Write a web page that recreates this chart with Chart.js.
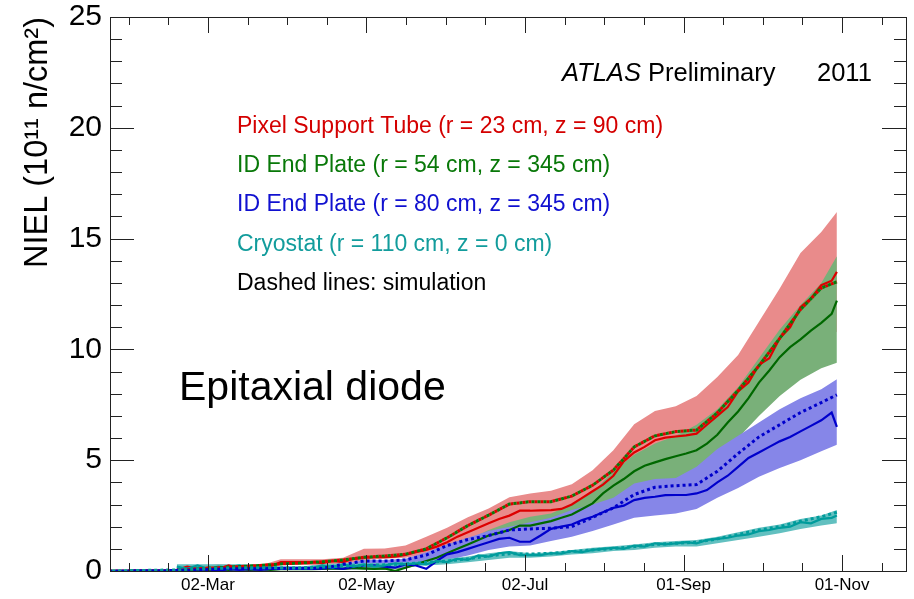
<!DOCTYPE html>
<html>
<head>
<meta charset="utf-8">
<title>NIEL vs time, 2011</title>
<script src="https://cdn.jsdelivr.net/npm/chart.js@4.4.1/dist/chart.umd.min.js"></script>
<style>
  html, body { margin: 0; padding: 0; background: #fff; }
</style>
</head>
<body>
<canvas id="niel" width="914" height="599"></canvas>
<script>
// x values are day of year 2011 (0 = 1 Jan)
const tickDays = [60, 121, 182, 243, 304];
const tickLabels = ['02-Mar', '02-May', '02-Jul', '01-Sep', '01-Nov'];

// measured fluence, sampled every 4 days
const measDays = [
  48, 52, 56, 60, 64, 68, 72, 76, 80, 84, 88, 92, 96, 100, 104, 108,
  112, 116, 120, 124, 128, 132, 136, 140, 144, 148, 152, 156, 160, 164, 168, 172,
  176, 180, 184, 188, 192, 196, 200, 204, 208, 212, 216, 220, 224, 228, 232, 236,
  240, 244, 248, 252, 256, 260, 264, 268, 272, 276, 280, 284, 288, 292, 296, 300, 302
];
const measPixel = [
  0.05, 0.2, 0.1, 0.15, 0.1, 0.25, 0.1, 0.15, 0.05, 0.2, 0.4, 0.4, 0.4, 0.4, 0.35, 0.45,
  0.4, 0.55, 0.6, 0.62, 0.62, 0.65, 0.72, 0.85, 0.95, 1.1, 1.3, 1.55, 1.75, 1.95, 2.15, 2.35,
  2.5, 2.72, 2.72, 2.74, 2.75, 2.8, 3.0, 3.3, 3.6, 3.9, 4.3, 4.95, 5.35, 5.6, 5.9, 6.02,
  6.07, 6.12, 6.2, 6.6, 7.0, 7.4, 8.1, 8.5, 9.3, 9.6, 10.5, 11.0, 11.9, 12.3, 12.9, 13.1, 13.5
];
const measPlate54 = [
  0.05, 0.0, 0.1, 0.05, 0.1, 0.05, 0.1, 0.05, 0.08, 0.05, 0.08, 0.08, 0.08, 0.08, 0.1, 0.12,
  0.1, 0.15, 0.12, 0.1, 0.12, 0.0, 0.15, 0.3, 0.45, 0.6, 0.8, 1.0, 1.2, 1.4, 1.6, 1.72,
  1.85, 2.05, 2.05, 2.15, 2.25, 2.4, 2.55, 2.8, 3.05, 3.5, 3.85, 4.15, 4.5, 4.75, 4.9, 5.05,
  5.18, 5.3, 5.45, 5.75, 6.15, 6.7, 7.2, 7.8, 8.5, 9.05, 9.65, 10.1, 10.45, 10.85, 11.2, 11.6, 12.2
];
const measPlate80 = [
  0.05, 0.1, 0.05, 0.1, 0.0, 0.1, 0.05, 0.1, 0.05, 0.1, 0.1, 0.1, 0.1, 0.1, 0.12, 0.15,
  0.1, 0.2, 0.25, 0.25, 0.2, 0.15, 0.3, 0.25, 0.1, 0.45, 0.75, 0.85, 1.0, 1.15, 1.3, 1.45,
  1.5, 1.32, 1.32, 1.6, 1.9, 2.0, 2.1, 2.3, 2.45, 2.65, 2.85, 2.95, 3.2, 3.3, 3.35, 3.42,
  3.43, 3.43, 3.5, 3.65, 4.0, 4.3, 4.7, 5.1, 5.35, 5.6, 5.85, 6.05, 6.3, 6.55, 6.8, 7.15, 6.5
];
const measCryostat = [
  0.2, 0.1, 0.25, 0.1, 0.2, 0.15, 0.25, 0.1, 0.2, 0.15, 0.12, 0.12, 0.12, 0.12, 0.25, 0.15,
  0.3, 0.2, 0.3, 0.2, 0.25, 0.35, 0.3, 0.35, 0.3, 0.45, 0.4, 0.55, 0.5, 0.7, 0.65, 0.8,
  0.85, 0.72, 0.72, 0.72, 0.8, 0.78, 0.9, 0.85, 0.95, 1.0, 1.05, 1.0, 1.15, 1.1, 1.25, 1.2,
  1.25, 1.3, 1.25, 1.4, 1.45, 1.5, 1.6, 1.65, 1.8, 1.85, 1.95, 2.0, 2.2, 2.15, 2.35, 2.4, 2.5
];

// simulation (dashed), sampled every 8 days
const simDays = [
  22, 48, 56, 64, 72, 80, 88, 96, 104, 112, 120, 128, 136, 144, 152, 160, 168,
  176, 184, 192, 200, 208, 216, 224, 232, 240, 248, 256, 264, 272, 280, 288, 296, 302
];
const simPixel = [
  0, 0.02, 0.1, 0.15, 0.2, 0.25, 0.32, 0.36, 0.42, 0.5, 0.62, 0.68, 0.76, 1.0, 1.5, 2.05, 2.52,
  3.02, 3.13, 3.13, 3.38, 3.87, 4.55, 5.6, 6.1, 6.29, 6.36, 7.14, 8.15, 9.26, 10.5, 11.8, 12.77, 13.05
];
// the r = 54 cm simulation lies on top of the pixel support tube one
const simPlate54 = simPixel.slice();
const simPlate80 = [
  0, 0.02, 0.05, 0.08, 0.1, 0.1, 0.12, 0.12, 0.12, 0.3, 0.45, 0.45, 0.5, 0.72, 1.15, 1.42, 1.6,
  1.85, 1.9, 1.93, 2.0, 2.42, 2.85, 3.45, 3.78, 3.85, 3.9, 4.5, 5.3, 6.05, 6.6, 7.15, 7.6, 7.95
];
const simCryostat = [
  0, 0.05, 0.1, 0.12, 0.15, 0.15, 0.15, 0.15, 0.18, 0.22, 0.25, 0.28, 0.32, 0.38, 0.45, 0.55, 0.68,
  0.78, 0.76, 0.8, 0.88, 0.95, 1.02, 1.1, 1.2, 1.25, 1.3, 1.45, 1.65, 1.85, 2.0, 2.25, 2.45, 2.65
];

// uncertainty bands on the measurements
const bandDays = [
  48, 56, 64, 72, 80, 88, 96, 104, 112, 120, 128, 136, 144, 152, 160, 168,
  176, 184, 192, 200, 208, 216, 224, 232, 240, 248, 256, 264, 272, 280, 288, 296, 302
];
const pixelHi = [
  0.1, 0.2, 0.3, 0.25, 0.25, 0.53, 0.53, 0.53, 0.6, 1.0, 1.02, 1.15, 1.54, 1.95, 2.42, 2.82,
  3.33, 3.5, 3.62, 3.92, 4.55, 5.45, 6.62, 7.22, 7.44, 7.9, 8.75, 9.75, 11.25, 12.75, 14.35, 15.3, 16.2
];
const pixelLo = [
  0, 0.05, 0.05, 0.05, 0.05, 0.27, 0.27, 0.27, 0.3, 0.5, 0.55, 0.6, 0.75, 1.05, 1.4, 1.75,
  2.05, 2.3, 2.32, 2.5, 3.0, 3.6, 4.5, 4.9, 5.0, 5.1, 5.7, 6.6, 7.5, 8.4, 9.5, 10.4, 10.8
];
const plate54Hi = [
  0.1, 0.15, 0.15, 0.15, 0.12, 0.12, 0.12, 0.15, 0.15, 0.18, 0.18, 0.2, 0.55, 0.95, 1.4, 1.85,
  2.2, 2.45, 2.6, 3.0, 3.55, 4.5, 5.25, 5.75, 6.1, 6.6, 7.3, 8.3, 9.6, 10.9, 12.0, 13.0, 14.2
];
const plate54Lo = [
  0, 0.05, 0.05, 0.05, 0.05, 0.05, 0.05, 0.05, 0.05, 0.05, 0.05, 0.1, 0.35, 0.65, 0.95, 1.3,
  1.5, 1.6, 1.8, 2.13, 2.6, 3.05, 3.5, 3.8, 4.13, 4.5, 5.0, 6.0, 7.0, 7.9, 8.63, 9.15, 9.4
];
const plate80Hi = [
  0.1, 0.1, 0.1, 0.15, 0.15, 0.15, 0.15, 0.15, 0.3, 0.5, 0.5, 0.55, 0.85, 1.2, 1.5, 1.8,
  2.0, 2.2, 2.4, 2.75, 3.0, 3.3, 3.95, 4.15, 4.2, 4.7, 5.5, 6.1, 6.7, 7.3, 7.8, 8.2, 8.65
];
const plate80Lo = [
  0, 0, 0, 0, 0, 0.05, 0.05, 0.05, 0.05, 0.1, 0.1, 0.15, 0.3, 0.5, 0.7, 0.95,
  1.1, 1.15, 1.35, 1.55, 1.8, 2.1, 2.4, 2.5, 2.6, 2.8, 3.3, 3.75, 4.25, 4.65, 5.0, 5.4, 5.7
];
const cryoHi = [
  0.3, 0.3, 0.3, 0.3, 0.3, 0.2, 0.2, 0.3, 0.35, 0.35, 0.35, 0.4, 0.45, 0.55, 0.65, 0.8,
  0.9, 0.8, 0.85, 0.95, 1.05, 1.12, 1.2, 1.3, 1.35, 1.4, 1.55, 1.75, 1.95, 2.1, 2.35, 2.5, 2.75
];
const cryoLo = [
  0.05, 0.05, 0.05, 0.05, 0.05, 0.08, 0.08, 0.1, 0.15, 0.15, 0.15, 0.2, 0.25, 0.3, 0.4, 0.5,
  0.6, 0.6, 0.65, 0.75, 0.8, 0.9, 0.95, 1.05, 1.1, 1.1, 1.25, 1.4, 1.55, 1.7, 1.9, 2.05, 2.15
];

const legendLines = [
  ['Pixel Support Tube (r = 23 cm, z = 90 cm)', '#d40000'],
  ['ID End Plate (r = 54 cm, z = 345 cm)', '#087808'],
  ['ID End Plate (r = 80 cm, z = 345 cm)', '#1010d0'],
  ['Cryostat (r = 110 cm, z = 0 cm)', '#129c9c'],
  ['Dashed lines: simulation', '#000']
];

const FONT = "'Liberation Sans', Arial, sans-serif";

function toXY(days, vals) {
  return days.map((d, i) => ({ x: d, y: vals[i] }));
}

// lower edge (invisible) followed by upper edge filled down to it
function band(lo, hi, color, order) {
  return [
    { data: toXY(bandDays, lo), borderWidth: 0, pointRadius: 0, fill: false, order: order + 1 },
    { data: toXY(bandDays, hi), borderWidth: 0, pointRadius: 0, fill: '-1',
      backgroundColor: color, order: order }
  ];
}

function measured(vals, color, order) {
  return { data: toXY(measDays, vals), borderColor: color, borderWidth: 2.2,
    pointRadius: 0, fill: false, order: order };
}

function simulated(vals, color, order, offset) {
  return { data: toXY(simDays, vals), borderColor: color, borderWidth: 3,
    borderDash: [3, 3], borderDashOffset: offset || 0, borderCapStyle: 'butt',
    pointRadius: 0, fill: false, order: order };
}

// ROOT-style frame with ticks on all four sides
const frameTicks = {
  id: 'frameTicks',
  afterDatasetsDraw(chart) {
    const { ctx, chartArea: a, scales: { x, y } } = chart;
    ctx.save();
    ctx.strokeStyle = '#222';
    ctx.lineWidth = 1;
    ctx.beginPath();
    const step = (tickDays[1] - tickDays[0]) / 4;
    for (let k = -8; k <= 40; k++) {
      const d = tickDays[0] + k * step;
      if (d < x.min || d > x.max) continue;
      const px = Math.round(x.getPixelForValue(d)) + 0.5;
      const len = (k % 4 === 0) ? 16 : 8;
      ctx.moveTo(px, a.bottom); ctx.lineTo(px, a.bottom - len);
      ctx.moveTo(px, a.top); ctx.lineTo(px, a.top + len);
    }
    for (let v = 0; v <= 25; v++) {
      const py = Math.round(y.getPixelForValue(v)) + 0.5;
      const len = (v % 5 === 0) ? 24 : 12;
      ctx.moveTo(a.left, py); ctx.lineTo(a.left + len, py);
      ctx.moveTo(a.right, py); ctx.lineTo(a.right - len, py);
    }
    ctx.stroke();
    ctx.strokeRect(Math.round(a.left) + 0.5, Math.round(a.top) + 0.5,
      Math.round(a.right - a.left), Math.round(a.bottom - a.top));
    ctx.restore();
  }
};

const labels = {
  id: 'labels',
  afterDraw(chart) {
    const ctx = chart.ctx;
    ctx.save();
    ctx.textBaseline = 'alphabetic';
    ctx.textAlign = 'left';
    ctx.fillStyle = '#000';

    ctx.font = 'italic 25.5px ' + FONT;
    ctx.fillText('ATLAS', 562, 81);
    const w = ctx.measureText('ATLAS').width;
    ctx.font = '25.5px ' + FONT;
    ctx.fillText(' Preliminary', 562 + w, 81);
    ctx.fillText('2011', 817, 81);

    ctx.font = '23px ' + FONT;
    const baselines = [132.5, 171.5, 210.5, 250.5, 290];
    legendLines.forEach(([text, color], i) => {
      ctx.fillStyle = color;
      ctx.fillText(text, 237, baselines[i]);
    });

    ctx.fillStyle = '#000';
    ctx.font = '41px ' + FONT;
    ctx.fillText('Epitaxial diode', 179, 400);
    ctx.restore();
  }
};

new Chart(document.getElementById('niel'), {
  type: 'line',
  data: {
    datasets: [
      ...band(pixelLo, pixelHi, '#e98b8b', 30),
      ...band(plate54Lo, plate54Hi, '#79b079', 28),
      ...band(plate80Lo, plate80Hi, '#8686e8', 26),
      ...band(cryoLo, cryoHi, '#62c0c0', 24),
      measured(measPixel, '#dd0000', 20),
      measured(measPlate54, '#006800', 19),
      measured(measPlate80, '#0000cc', 18),
      measured(measCryostat, '#009c9c', 17),
      simulated(simPixel, '#dd0000', 12, 0),
      simulated(simPlate54, '#0a7a0a', 11, 3),
      simulated(simPlate80, '#0000cc', 10, 0),
      simulated(simCryostat, '#009c9c', 9, 3)
    ]
  },
  options: {
    responsive: false,
    animation: false,
    devicePixelRatio: 1,
    layout: { padding: { top: 17, right: 8, left: 0, bottom: 0 } },
    elements: { line: { tension: 0 } },
    plugins: { legend: { display: false }, tooltip: { enabled: false } },
    scales: {
      x: {
        type: 'linear',
        min: 22.3,
        max: 328.6,
        grid: { display: false, drawTicks: false },
        border: { display: false },
        afterBuildTicks: (scale) => { scale.ticks = tickDays.map(v => ({ value: v })); },
        afterFit: (scale) => { scale.height = 28; },
        ticks: {
          autoSkip: false,
          maxRotation: 0,
          padding: 6,
          color: '#000',
          font: { family: FONT, size: 17, lineHeight: 1 },
          callback: (value, index) => tickLabels[index]
        }
      },
      y: {
        min: 0,
        max: 25,
        grid: { display: false, drawTicks: false },
        border: { display: false },
        afterFit: (scale) => { scale.width = 110; },
        ticks: {
          stepSize: 5,
          padding: 8,
          color: '#000',
          font: { family: FONT, size: 30, lineHeight: 0.5 }
        },
        title: {
          display: true,
          text: 'NIEL (10¹¹ n/cm²)',
          align: 'end',
          color: '#000',
          font: { family: FONT, size: 32.5 },
          padding: { top: 19, bottom: 0 }
        }
      }
    }
  },
  plugins: [frameTicks, labels]
});
</script>
</body>
</html>
